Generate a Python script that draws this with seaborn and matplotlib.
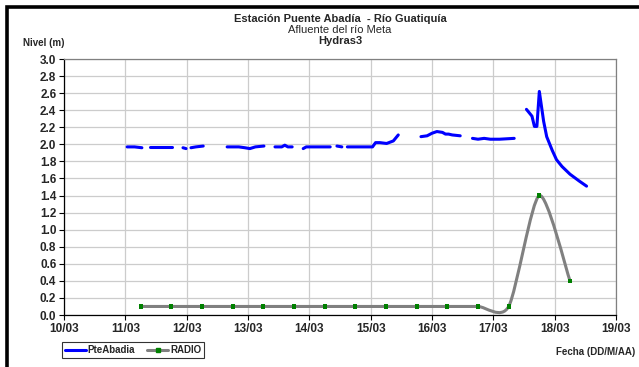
import numpy as np
import pandas as pd
import matplotlib
matplotlib.use("Agg")
import matplotlib.pyplot as plt
import seaborn as sns
from matplotlib.path import Path
from matplotlib.patches import PathPatch, Rectangle
from matplotlib.lines import Line2D

# PteAbadia level (m) by day of March; NaN marks a gap in the record
pte_day = [11.03, 11.15, 11.27, np.nan,
           11.40, 11.58, 11.76, np.nan,
           11.94, 11.99, np.nan,
           12.07, 12.15, 12.27, np.nan,
           12.66, 12.85, 12.95, 13.03, 13.12, 13.26, np.nan,
           13.44, 13.55, 13.60, 13.65, 13.72, np.nan,
           13.90, 13.95, 14.15, 14.34, np.nan,
           14.45, 14.53, np.nan,
           14.62, 14.85, 15.03, 15.08, 15.15, 15.26, 15.37, 15.45, np.nan,
           15.82, 15.92, 16.00, 16.08, 16.17, 16.22, 16.27, 16.33, 16.46, np.nan,
           16.66, 16.75, 16.85, 16.95, 17.10, 17.34, np.nan,
           17.54, 17.63, 17.67, 17.71, 17.75, 17.82, 17.87, 17.96, 18.03, 18.12,
           18.25, 18.40, 18.52]
pte_level = [1.97, 1.97, 1.96, np.nan,
             1.97, 1.97, 1.97, np.nan,
             1.96, 1.95, np.nan,
             1.96, 1.97, 1.98, np.nan,
             1.97, 1.97, 1.96, 1.95, 1.97, 1.98, np.nan,
             1.97, 1.97, 1.99, 1.97, 1.97, np.nan,
             1.95, 1.97, 1.97, 1.97, np.nan,
             1.98, 1.97, np.nan,
             1.97, 1.97, 1.97, 2.02, 2.02, 2.01, 2.04, 2.11, np.nan,
             2.09, 2.10, 2.13, 2.15, 2.14, 2.12, 2.12, 2.11, 2.10, np.nan,
             2.07, 2.06, 2.07, 2.06, 2.06, 2.07, np.nan,
             2.41, 2.33, 2.21, 2.21, 2.62, 2.27, 2.09, 1.93, 1.82, 1.74,
             1.65, 1.57, 1.51]

# RADIO readings (m)
radio_day = [11.25, 11.75, 12.25, 12.75, 13.25, 13.75, 14.25, 14.75,
             15.25, 15.75, 16.25, 16.75, 17.25, 17.75, 18.25]
radio_level = [0.1, 0.1, 0.1, 0.1, 0.1, 0.1, 0.1, 0.1,
               0.1, 0.1, 0.1, 0.1, 0.1, 1.4, 0.4]

day_ticks = [10, 11, 12, 13, 14, 15, 16, 17, 18, 19]
day_labels = ["10/03", "11/03", "12/03", "13/03", "14/03",
              "15/03", "16/03", "17/03", "18/03", "19/03"]

BLUE = "#0000ff"
GREY = "#808080"
GREEN = "#008000"


def smooth_path(x, y, tension=0.75):
    # excel-like smoothed line as cubic bezier through the points
    pts = np.column_stack([x, y])
    n = len(pts)
    verts = [pts[0]]
    codes = [Path.MOVETO]
    for i in range(n - 1):
        p_prev = pts[max(i - 1, 0)]
        p0, p1 = pts[i], pts[i + 1]
        p_next = pts[min(i + 2, n - 1)]
        verts += [p0 + tension * (p1 - p_prev) / 6,
                  p1 - tension * (p_next - p0) / 6,
                  p1]
        codes += [Path.CURVE4] * 3
    return Path(verts, codes)


sns.set_style("white")
plt.rcParams['font.family'] = ['Liberation Sans', 'DejaVu Sans']

fig = plt.figure(figsize=(6.39, 3.67), dpi=100)
ax = fig.add_axes([64 / 639, 1 - 315 / 367, 552 / 639, 256 / 367])

df = pd.DataFrame({"day": pte_day, "level": pte_level})
df["seg"] = df["level"].isna().cumsum()
df = df.dropna()
sns.lineplot(data=df, x="day", y="level", units="seg", estimator=None,
             sort=False, color=BLUE, lw=2.2, legend=False, ax=ax, zorder=3)

ax.add_patch(PathPatch(smooth_path(radio_day, radio_level), facecolor="none",
                       edgecolor=GREY, lw=2.2, zorder=3))
sns.scatterplot(x=radio_day, y=radio_level, color=GREEN, marker="s", s=9,
                edgecolor="none", ax=ax, zorder=4)

ax.set_xlim(10, 19)
ax.set_ylim(0, 3.0)
ax.set_xticks(day_ticks)
ax.set_xticklabels(day_labels)
ax.set_yticks(np.round(np.arange(0, 3.01, 0.2), 1))
ax.yaxis.set_major_formatter(matplotlib.ticker.FormatStrFormatter("%.1f"))
ax.set_xlabel("")
ax.set_ylabel("")
ax.grid(True, color="#cccccc", lw=0.9)
ax.set_axisbelow(True)
ax.tick_params(axis="both", direction="out", length=3.5, width=0.8, color="black",
               labelsize=8.5, pad=2, bottom=True, left=True)
for lab in ax.get_xticklabels() + ax.get_yticklabels():
    lab.set_fontweight("bold")
for side in ["left", "bottom"]:
    ax.spines[side].set_color("black")
    ax.spines[side].set_linewidth(0.9)
for side in ["top", "right"]:
    ax.spines[side].set_color(GREY)
    ax.spines[side].set_linewidth(0.9)

cx = 340 / 639
fig.text(cx, 1 - 19 / 367, "Estación Puente Abadía  - Río Guatiquía", ha="center", va="center",
         fontsize=8, fontweight="bold")
fig.text(cx, 1 - 30 / 367, "Afluente del río Meta", ha="center", va="center", fontsize=8)
fig.text(cx, 1 - 41 / 367, "Hydras3", ha="center", va="center", fontsize=8, fontweight="bold")
fig.text(23 / 639, 1 - 43 / 367, "Nivel (m)", ha="left", va="center", fontsize=7, fontweight="bold")
fig.text(635 / 639, 1 - 352 / 367, "Fecha (DD/M/AA)", ha="right", va="center",
         fontsize=7, fontweight="bold")

handles = [Line2D([], [], color=BLUE, lw=2.2),
           Line2D([], [], color=GREY, lw=2.2, marker="s", markersize=3,
                  markerfacecolor=GREEN, markeredgecolor=GREEN)]
leg = fig.legend(handles, ["PteAbadia", "RADIO"], loc="center", ncol=2,
                 bbox_to_anchor=(133 / 639, 1 - 350 / 367), bbox_transform=fig.transFigure,
                 prop={"size": 7, "weight": "bold"}, frameon=True, fancybox=False,
                 edgecolor="black", handlelength=2.2, handletextpad=0.2,
                 columnspacing=1.2, borderpad=0.3)
leg.get_frame().set_linewidth(0.8)

# thick outer frame (left and top visible)
fig.add_artist(Rectangle((6.5 / 639, -0.1), 2.0, 1.1 - 6.5 / 367, transform=fig.transFigure,
                         fill=False, edgecolor="black", lw=2.6))

fig.savefig("out.png", dpi=100)
